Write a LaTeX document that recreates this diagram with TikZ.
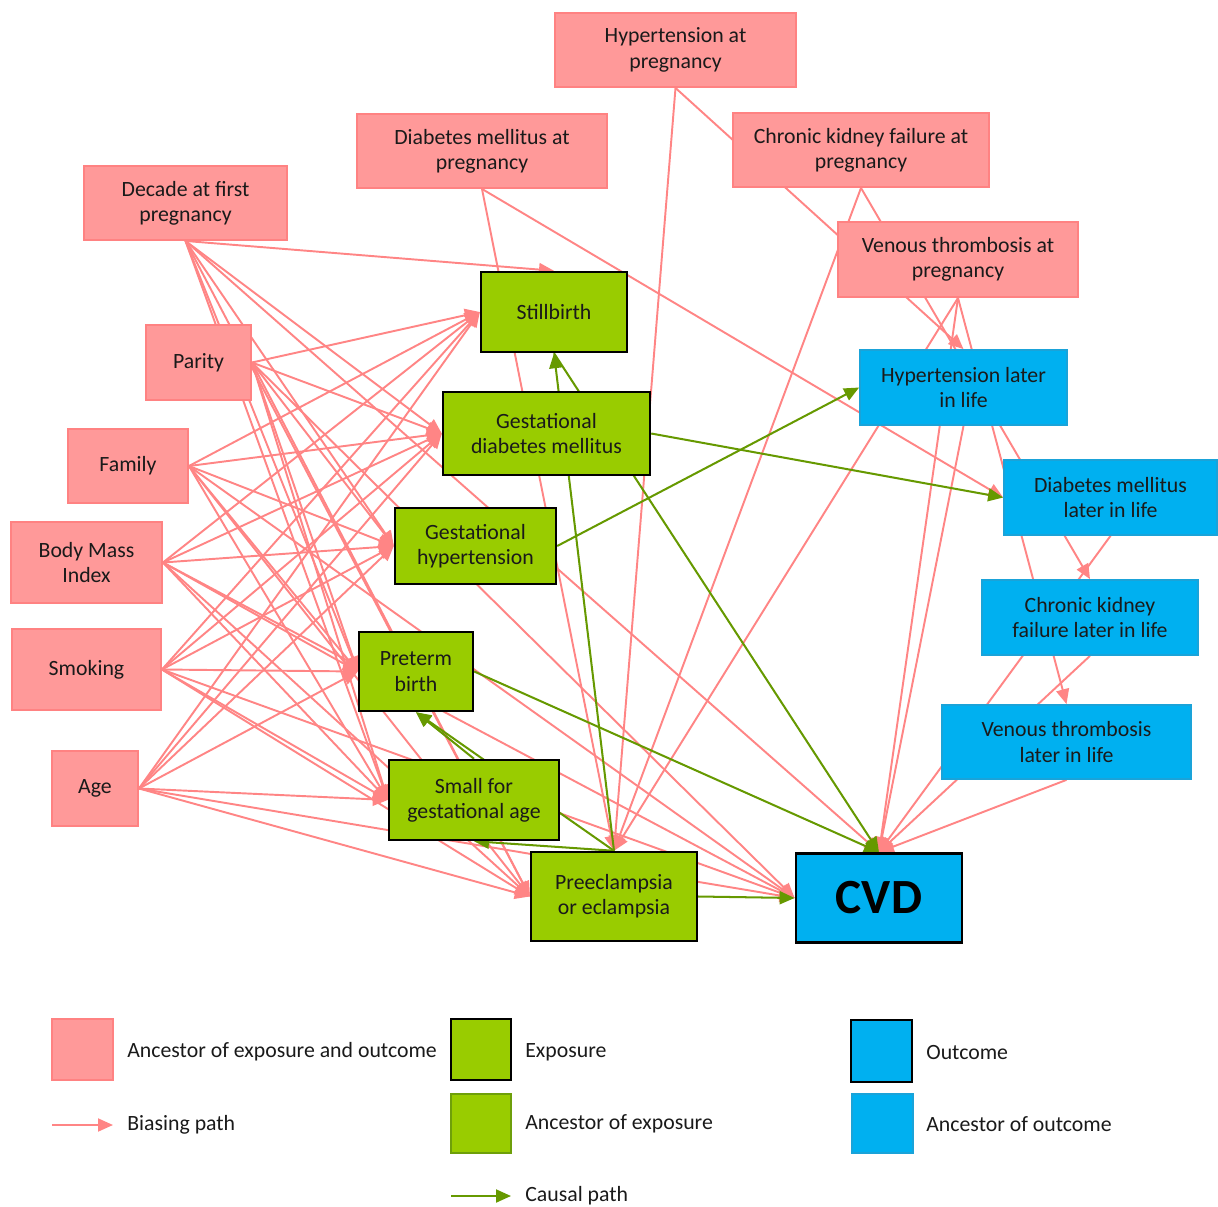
\documentclass[tikz,border=0pt]{standalone}
\usepackage{fontspec}
\setmainfont{Carlito}
\usetikzlibrary{arrows.meta,backgrounds}
\definecolor{pinkfill}{HTML}{FF9999}
\definecolor{pinkdraw}{HTML}{FF8282}
\definecolor{pinkline}{HTML}{FF8585}
\definecolor{greenfill}{HTML}{99CC00}
\definecolor{greenline}{HTML}{669900}
\definecolor{greendraw}{HTML}{6E9F0A}
\definecolor{bluefill}{HTML}{00B0F0}
\definecolor{bluedraw}{HTML}{1AA3D9}
\definecolor{txt}{HTML}{1A1A1A}
\begin{document}
\begin{tikzpicture}[x=0.02cm,y=-0.02cm,
  box/.style={rectangle, inner sep=0pt, align=center, font=\fontsize{12.4}{14.4}\selectfont, text=txt},
  conf/.style={box, fill=pinkfill, draw=pinkdraw, line width=1.1pt},
  expo/.style={box, fill=greenfill, draw=black, line width=1.4pt},
  anc/.style={box, fill=bluefill, draw=bluedraw, line width=1pt},
  outc/.style={box, fill=bluefill, draw=black, line width=1.6pt},
  bias/.style={draw=pinkline, line width=1.1pt, -{Triangle[length=0.3cm,width=0.26cm]}},
  causal/.style={draw=greenline, line width=1.15pt, -{Triangle[length=0.3cm,width=0.26cm]}},
  lbl/.style={anchor=west, font=\fontsize{12.4}{14.4}\selectfont, text=txt, inner sep=0pt}
]
\useasboundingbox (0,0) rectangle (1218,1207);

% confounders (ancestors of exposure and outcome)
\node[conf, minimum width=4.82cm, minimum height=1.48cm] (htp) at (675.5,50) {Hypertension at\\pregnancy};
\node[conf, minimum width=5.0cm, minimum height=1.48cm] (dmp) at (482,151) {Diabetes mellitus at\\pregnancy};
\node[conf, minimum width=5.12cm, minimum height=1.48cm] (ckp) at (861,150) {Chronic kidney failure at\\pregnancy};
\node[conf, minimum width=4.06cm, minimum height=1.48cm] (dfp) at (185.5,203) {Decade at first\\pregnancy};
\node[conf, minimum width=4.8cm, minimum height=1.5cm] (vtp) at (958,259.5) {Venous thrombosis at\\pregnancy};
\node[conf, minimum width=2.1cm, minimum height=1.5cm] (par) at (198.5,362.5) {Parity};
\node[conf, minimum width=2.4cm, minimum height=1.48cm] (fam) at (128,466) {Family};
\node[conf, minimum width=3.02cm, minimum height=1.62cm] (bmi) at (86.5,562.5) {Body Mass\\Index};
\node[conf, minimum width=2.98cm, minimum height=1.62cm] (smk) at (86.5,669.5) {Smoking};
\node[conf, minimum width=1.72cm, minimum height=1.5cm] (age) at (95,788.5) {Age};

% exposures
\node[expo, minimum width=2.92cm, minimum height=1.6cm] (sb) at (554,312) {Stillbirth};
\node[expo, minimum width=4.14cm, minimum height=1.66cm] (gdm) at (546.5,433.5) {Gestational\\diabetes mellitus};
\node[expo, minimum width=3.22cm, minimum height=1.52cm] (gh) at (475.5,546) {Gestational\\hypertension};
\node[expo, minimum width=2.28cm, minimum height=1.58cm] (ptb) at (416,671.5) {Preterm\\birth};
\node[expo, minimum width=3.4cm, minimum height=1.6cm] (sga) at (474,800) {Small for\\gestational age};
\node[expo, minimum width=3.32cm, minimum height=1.78cm] (pe) at (614,896.5) {Preeclampsia\\or eclampsia};

% outcome and ancestors of outcome
\node[outc, minimum width=3.32cm, minimum height=1.78cm, font=\fontsize{28}{30}\selectfont\bfseries, text=black] (cvd) at (879,898) {CVD};
\node[anc, minimum width=4.14cm, minimum height=1.5cm] (hll) at (963.5,387.5) {Hypertension later\\in life};
\node[anc, minimum width=4.26cm, minimum height=1.5cm] (dml) at (1110.5,497.5) {Diabetes mellitus\\later in life};
\node[anc, minimum width=4.32cm, minimum height=1.5cm] (ckl) at (1090,617.5) {Chronic kidney\\failure later in life};
\node[anc, minimum width=4.98cm, minimum height=1.48cm] (vtl) at (1066.5,742) {Venous thrombosis\\later in life};

\begin{scope}[on background layer]
  % biasing paths from left confounders
  \foreach \s in {par,fam,bmi,smk,age}{
    \foreach \t in {sb,gdm,gh,ptb,sga,pe,cvd}{
      \draw[bias] (\s.east) -- (\t.west);
    }
  }
  \draw[bias] (dfp.south) -- (sb.north);
  \foreach \t in {gdm,gh,ptb,sga,pe}{
    \draw[bias] (dfp.south) -- (\t.west);
  }
  \draw[bias] (dfp.south) -- (cvd.north);
  % biasing paths from pregnancy conditions
  \draw[bias] (htp.south) -- (pe.north);
  \draw[bias] (htp.south) -- (hll.north);
  \draw[bias] (dmp.south) -- (pe.north);
  \draw[bias] (dmp.south) -- (dml.west);
  \draw[bias] (ckp.south) -- (pe.north);
  \draw[bias] (ckp.south) -- (ckl.north);
  \draw[bias] (vtp.south) -- (pe.north);
  \draw[bias] (vtp.south) -- (vtl.north);
  \draw[bias] (vtp.south) -- (cvd.north);
  % later in life to CVD
  \draw[bias] (hll.south) -- (cvd.north);
  \draw[bias] (dml.south) -- (cvd.north);
  \draw[bias] (ckl.south) -- (cvd.north);
  \draw[bias] (vtl.south) -- (cvd.north);
  % causal paths
  \draw[causal] (pe.north) -- (sb.south);
  \draw[causal] (sb.south) -- (cvd.north);
  \draw[causal] (pe.north) -- (sga.south);
  \draw[causal] (pe.north) -- (ptb.south);
  \draw[causal] (sga.north) -- (ptb.south);
  \draw[causal] (ptb.east) -- (cvd.north);
  \draw[causal] (gh.east) -- (hll.west);
  \draw[causal] (gdm.east) -- (dml.west);
  \draw[causal] (pe.east) -- (cvd.west);
\end{scope}

% legend
\node[conf, minimum width=1.22cm, minimum height=1.22cm] (lg1) at (82.5,1049.5) {};
\node[lbl] (lt1) at (127,1052) {Ancestor of exposure and outcome};
\node[expo, minimum width=1.2cm, minimum height=1.22cm] (lg2) at (481,1049.5) {};
\node[lbl] (lt2) at (525,1052) {Exposure};
\node[outc, minimum width=1.22cm, minimum height=1.24cm] (lg3) at (881.5,1051) {};
\node[lbl] (lt3) at (926,1052) {Outcome};
\coordinate (la1) at (52,1125);
\coordinate (lb1) at (113,1125);
\draw[bias] (la1) -- (lb1);
\node[lbl] (lt4) at (127,1125) {Biasing path};
\node[box, fill=greenfill, draw=greendraw, line width=1pt, minimum width=1.2cm, minimum height=1.18cm] (lg5) at (481,1123.5) {};
\node[lbl] (lt5) at (525,1124) {Ancestor of exposure};
\node[anc, minimum width=1.22cm, minimum height=1.18cm] (lg6) at (882.5,1123.5) {};
\node[lbl] (lt6) at (926,1124) {Ancestor of outcome};
\coordinate (la2) at (451,1196);
\coordinate (lb2) at (511,1196);
\draw[causal] (la2) -- (lb2);
\node[lbl] (lt7) at (525,1196) {Causal path};
\end{tikzpicture}
\end{document}
